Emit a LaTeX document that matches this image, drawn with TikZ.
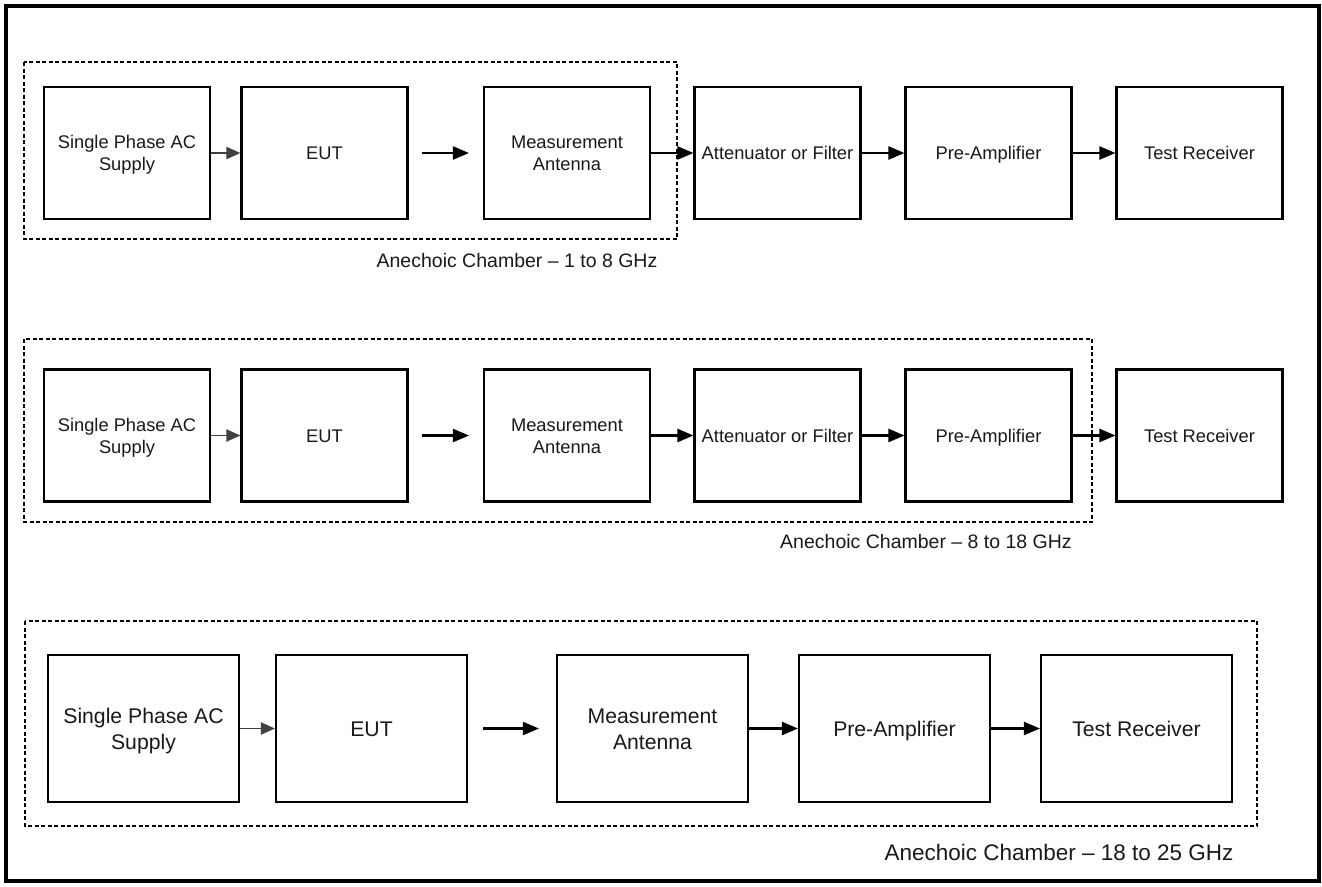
\documentclass[tikz,border=0pt]{standalone}
\usepackage{fontspec}
\setmainfont{Liberation Sans}
\usetikzlibrary{arrows.meta}
% one text line of a block, with caps centred in the line
\newcommand{\blkline}[1]{#1\rule[-0.23em]{0pt}{1.18em}}
\begin{document}
\begin{tikzpicture}[x=1pt,y=-1pt,
  blk/.style={draw=black, line width=2.1pt, fill=white, inner sep=0pt,
    align=center, text=black!90},
  smallblk/.style={blk, minimum width=166pt, minimum height=132pt,
    font=\fontsize{18.3}{22}\selectfont},
  bigblk/.style={blk, minimum width=191pt, minimum height=147pt,
    font=\fontsize{21.2}{23}\selectfont},
  chamber/.style={draw=black, line width=1.8pt, dash pattern=on 4pt off 2.5pt},
  feed/.style={draw=black!75, line width=1.9pt,
    -{Triangle[length=14pt,width=12pt]}},
  sig/.style={draw=black, line width=2.2pt,
    -{Triangle[length=16pt,width=13pt]}},
  chlabel/.style={inner sep=0pt, text=black!90}]
\useasboundingbox (0,0) rectangle (1322,886);
\fill[white] (0,0) rectangle (1322,886);
\draw[line width=4pt] (5.5,5.5) rectangle (1319,881);

% chamber outlines
\draw[chamber] (24,62) rectangle (677,239);
\draw[chamber] (24,339) rectangle (1092,522);
\draw[chamber] (25,621) rectangle (1257,826);

% 1 to 8 GHz chain
\node[smallblk] (a1) at (127,153) {\blkline{Single Phase AC}\\\blkline{Supply}};
\node[smallblk] (b1) at (324.5,153) {\blkline{EUT}};
\node[smallblk] (c1) at (567,153) {\blkline{Measurement}\\\blkline{Antenna}};
\node[smallblk] (d1) at (777.5,153) {\blkline{Attenuator or Filter}};
\node[smallblk] (e1) at (988.5,153) {\blkline{Pre-Amplifier}};
\node[smallblk] (f1) at (1199.5,153) {\blkline{Test Receiver}};
\draw[feed] (a1) -- (b1);
\draw[sig] ([xshift=13pt]b1.east) -- ([xshift=-14pt]c1.west);
\draw[sig] (c1) -- (d1);
\draw[sig] (d1) -- (e1);
\draw[sig] (e1) -- (f1);
\node[chlabel, font=\fontsize{19.5}{23}\selectfont] (l1) at (517,261)
  {Anechoic Chamber – 1 to 8 GHz};

% 8 to 18 GHz chain
\node[smallblk] (a2) at (127,435.5) {\blkline{Single Phase AC}\\\blkline{Supply}};
\node[smallblk] (b2) at (324.5,435.5) {\blkline{EUT}};
\node[smallblk] (c2) at (567,435.5) {\blkline{Measurement}\\\blkline{Antenna}};
\node[smallblk] (d2) at (777.5,435.5) {\blkline{Attenuator or Filter}};
\node[smallblk] (e2) at (988.5,435.5) {\blkline{Pre-Amplifier}};
\node[smallblk] (f2) at (1199.5,435.5) {\blkline{Test Receiver}};
\draw[feed] (a2) -- (b2);
\draw[sig] ([xshift=13pt]b2.east) -- ([xshift=-14pt]c2.west);
\draw[sig] (c2) -- (d2);
\draw[sig] (d2) -- (e2);
\draw[sig] (e2) -- (f2);
\node[chlabel, font=\fontsize{19.5}{23}\selectfont] (l2) at (926,542)
  {Anechoic Chamber – 8 to 18 GHz};

% 18 to 25 GHz chain
\node[bigblk] (a3) at (143.5,728.5) {\blkline{Single Phase AC}\\\blkline{Supply}};
\node[bigblk] (b3) at (371.5,728.5) {\blkline{EUT}};
\node[bigblk] (c3) at (652.5,728.5) {\blkline{Measurement}\\\blkline{Antenna}};
\node[bigblk] (e3) at (894.5,728.5) {\blkline{Pre-Amplifier}};
\node[bigblk] (f3) at (1136.5,728.5) {\blkline{Test Receiver}};
\draw[feed] (a3) -- (b3);
\draw[sig] ([xshift=15pt]b3.east) -- ([xshift=-17pt]c3.west);
\draw[sig] (c3) -- (e3);
\draw[sig] (e3) -- (f3);
\node[chlabel, font=\fontsize{22.5}{27}\selectfont] (l3) at (1059,852)
  {Anechoic Chamber – 18 to 25 GHz};
\end{tikzpicture}
\end{document}
